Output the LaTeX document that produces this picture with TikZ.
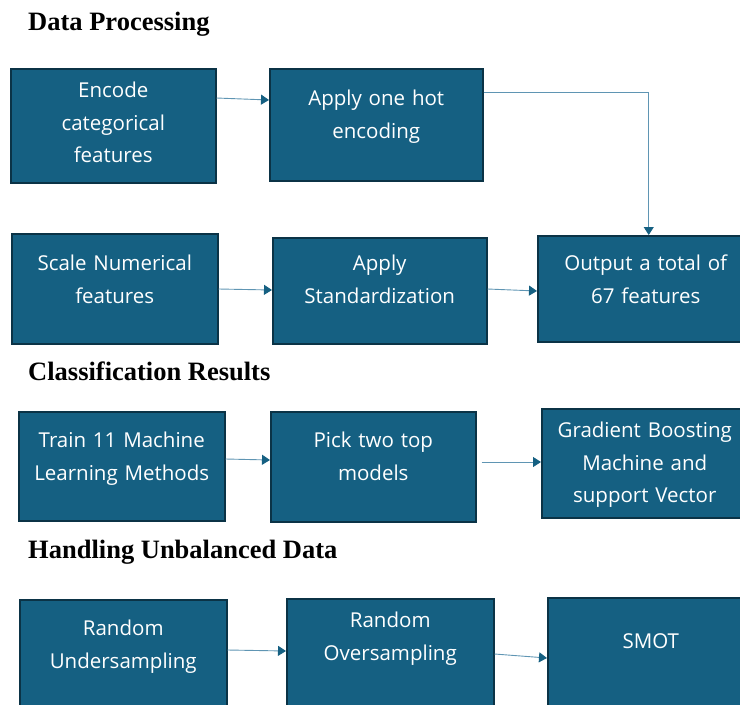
\documentclass[tikz,border=0pt]{standalone}
\usepackage{fontspec}
\usetikzlibrary{arrows.meta}

\newfontfamily\boxfamily{Open Sans}
\newfontfamily\headfamily{Liberation Serif}

\definecolor{boxfill}{HTML}{156082}
\definecolor{boxedge}{HTML}{0B3346}
\definecolor{flowline}{HTML}{5F95B3}

\tikzset{
  stagebox/.style={draw=boxedge, fill=boxfill, line width=1.5pt, text=white,
    font=\boxfamily\fontsize{20.5}{32.5}\selectfont, align=center,
    inner sep=0pt, anchor=north west},
  flow/.style={draw=flowline, line width=0.9pt,
    -{Triangle[length=8pt,width=10pt,color=boxfill]}},
  heading/.style={font=\headfamily\bfseries\fontsize{26.5}{30}\selectfont,
    anchor=base west, inner sep=0pt}
}

\begin{document}
\begin{tikzpicture}[x=1pt, y=-1pt]
\clip (0,0) rectangle (740,705);

% section titles
\node[heading] (dp) at (28,30) {Data Processing};
\node[heading] (cr) at (28,380) {Classification Results};
\node[heading] (hu) at (28,558) {Handling Unbalanced Data};

% data processing
\node[stagebox, text width=205pt, text height=29pt, text depth=85pt] (enc) at (10,68) {Encode\\categorical\\features};
\node[stagebox, text width=213pt, text height=37pt, text depth=75pt] (hot) at (269,68) {Apply one hot\\encoding};
\node[stagebox, text width=206pt, text height=37pt, text depth=73pt] (scale) at (11,233) {Scale Numerical\\features};
\node[stagebox, text width=214pt, text height=33pt, text depth=73pt] (std) at (272,237) {Apply\\Standardization};
\node[stagebox, text width=216pt, text height=35pt, text depth=71pt] (out) at (537,235) {Output a total of\\67 features};

\draw[flow] ([yshift=-30pt]enc.north east) -- ([yshift=-32pt]hot.north west);
\draw[flow] ([yshift=-24pt]hot.north east) -| ([xshift=3pt]out.north);
\draw[flow] ([yshift=-56pt]scale.north east) -- ([yshift=-53pt]std.north west);
\draw[flow] ([yshift=-52pt]std.north east) -- ([yshift=-56pt]out.north west);

% classification
\node[stagebox, text width=206pt, text height=36pt, text depth=73pt] (train) at (18,411) {Train 11 Machine\\Learning Methods};
\node[stagebox, text width=205pt, text height=36pt, text depth=74pt] (pick) at (270,411) {Pick two top\\models};
\node[stagebox, text width=206pt, text height=29pt, text depth=80pt] (gbm) at (541,408) {Gradient Boosting\\Machine and\\support Vector};

\draw[flow] ([yshift=-48pt]train.north east) -- ([yshift=-49pt]pick.north west);
\draw[flow] ([xshift=5pt,yshift=-51pt]pick.north east) -- ([yshift=-54pt]gbm.north west);

% unbalanced data
\node[stagebox, text width=207pt, text height=36pt, text depth=74pt] (under) at (19,599) {Random\\Undersampling};
\node[stagebox, text width=207pt, text height=29pt, text depth=81pt] (over) at (286,598) {Random\\Oversampling};
\node[stagebox, text width=206pt, text height=51pt, text depth=59pt] (smot) at (547,597) {SMOT};

\draw[flow] ([yshift=-51pt]under.north east) -- ([yshift=-53pt]over.north west);
\draw[flow] ([yshift=-56pt]over.north east) -- ([yshift=-61pt]smot.north west);

\end{tikzpicture}
\end{document}
